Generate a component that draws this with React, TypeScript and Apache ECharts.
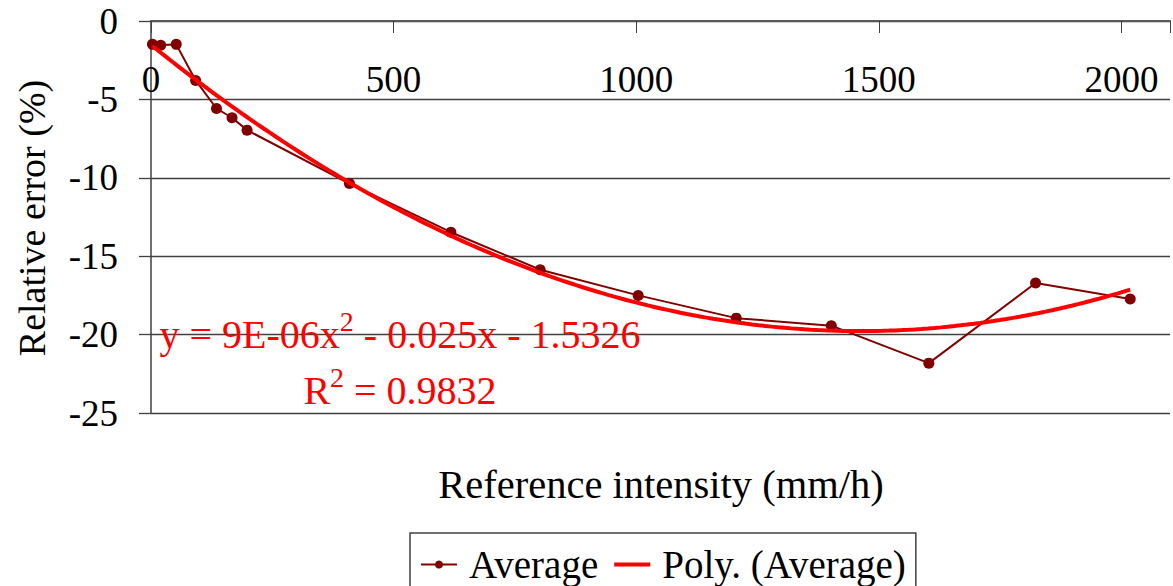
import React, { useEffect, useRef } from "react";
import * as echarts from "echarts";

const intensity = [3, 20, 52, 92, 135, 167, 198, 409, 618, 802, 1004, 1206, 1402, 1603, 1823, 2018];
const relError = [-1.49, -1.55, -1.49, -3.79, -5.58, -6.17, -6.96, -10.37, -13.47, -15.86, -17.5, -18.95, -19.43, -21.82, -16.71, -17.73];
const xTicks = [0, 500, 1000, 1500, 2000];
const yTicks = [0, -5, -10, -15, -20, -25];
const seriesNames = ["Average", "Poly. (Average)"];
const equationText = ["y = 9E-06x", "2", " - 0.025x - 1.5326"];
const r2Text = ["R", "2", " = 0.9832"];
const xTitle = "Reference intensity (mm/h)";
const yTitle = "Relative error (%)";

const FONT = '"Liberation Serif", "DejaVu Serif", serif';

// Least-squares quadratic fit (like a spreadsheet polynomial trendline)
function fitQuadratic(xs: number[], ys: number[]) {
  let s0 = 0, s1 = 0, s2 = 0, s3 = 0, s4 = 0, t0 = 0, t1 = 0, t2 = 0;
  for (let i = 0; i < xs.length; i++) {
    const x = xs[i], y = ys[i];
    s0 += 1; s1 += x; s2 += x * x; s3 += x * x * x; s4 += x * x * x * x;
    t0 += y; t1 += x * y; t2 += x * x * y;
  }
  const M = [
    [s4, s3, s2, t2],
    [s3, s2, s1, t1],
    [s2, s1, s0, t0],
  ];
  for (let c = 0; c < 3; c++) {
    let p = c;
    for (let r = c + 1; r < 3; r++) if (Math.abs(M[r][c]) > Math.abs(M[p][c])) p = r;
    [M[c], M[p]] = [M[p], M[c]];
    for (let r = 0; r < 3; r++) {
      if (r === c) continue;
      const f = M[r][c] / M[c][c];
      for (let k = c; k < 4; k++) M[r][k] -= f * M[c][k];
    }
  }
  return [M[0][3] / M[0][0], M[1][3] / M[1][1], M[2][3] / M[2][2]];
}

const richStyles = {
  n: { fontSize: 40, fontFamily: FONT, fill: "#ff0000", lineHeight: 44, verticalAlign: "bottom" },
  s: { fontSize: 28, fontFamily: FONT, fill: "#ff0000", lineHeight: 28, verticalAlign: "bottom", padding: [0, 0, 19, 0] },
};

export default function App() {
  const ref = useRef<HTMLDivElement>(null);
  useEffect(() => {
    if (!ref.current) return;
    const chart = echarts.init(ref.current, undefined, { renderer: "svg" });
    const [a, b, c] = fitQuadratic(intensity, relError);
    const x0 = intensity[0];
    const x1 = intensity[intensity.length - 1];
    const trend: number[][] = [];
    const n = 150;
    for (let i = 0; i <= n; i++) {
      const x = x0 + ((x1 - x0) * i) / n;
      trend.push([x, a * x * x + b * x + c]);
    }
    const avgData = intensity.map((x, i) => [x, relError[i]]);

    chart.setOption({
      animation: false,
      backgroundColor: "#ffffff",
      textStyle: { fontFamily: FONT },
      grid: { left: 151, top: 21, right: -1, bottom: 173, containLabel: false },
      legend: {
        data: [
          { name: seriesNames[0], lineStyle: { width: 2 } },
          { name: seriesNames[1], itemStyle: { opacity: 0 }, lineStyle: { width: 4 } },
        ],
        left: 410,
        top: 533,
        orient: "horizontal",
        borderColor: "#404040",
        borderWidth: 1.5,
        padding: [12, 10, 20, 10],
        itemGap: 14,
        itemWidth: 36,
        itemHeight: 10,
        textStyle: { fontSize: 39, color: "#000", fontFamily: FONT, padding: [0, 0, 0, 7] },
      },
      xAxis: {
        type: "value",
        position: "top",
        min: 0,
        max: 2100,
        interval: 500,
        axisLine: { show: true, onZero: false, lineStyle: { color: "#595959", width: 2 } },
        axisTick: { show: true, inside: true, length: 12, lineStyle: { color: "#404040", width: 1 } },
        splitLine: { show: false },
        axisLabel: {
          inside: true,
          fontSize: 37,
          color: "#000",
          fontFamily: FONT,
          margin: 40,
          formatter: (v: number) => (xTicks.indexOf(v) >= 0 ? String(v) : ""),
        },
      },
      yAxis: {
        type: "value",
        min: -25,
        max: 0,
        interval: 5,
        axisLine: { show: true, lineStyle: { color: "#404040", width: 1.5 } },
        axisTick: { show: true, length: 12, lineStyle: { color: "#404040", width: 1.3 } },
        splitLine: { show: true, lineStyle: { color: "#404040", width: 1.3 } },
        axisLabel: {
          fontSize: 37,
          color: "#000",
          fontFamily: FONT,
          margin: 33,
          formatter: (v: number) => (yTicks.indexOf(v) >= 0 ? String(v) : ""),
        },
      },
      graphic: [
        {
          type: "text",
          x: 32,
          y: 218,
          rotation: Math.PI / 2,
          style: {
            text: yTitle,
            fontSize: 38,
            fontFamily: FONT,
            fill: "#000",
            align: "center",
            verticalAlign: "middle",
          },
        },
        {
          type: "text",
          x: 661,
          y: 484,
          style: {
            text: xTitle,
            fontSize: 40.5,
            fontFamily: FONT,
            fill: "#000",
            align: "center",
            verticalAlign: "middle",
          },
        },
        {
          type: "text",
          x: 400,
          y: 332,
          z: 100,
          style: {
            text: `{n|${equationText[0]}}{s|${equationText[1]}}{n|${equationText[2]}}`,
            align: "center",
            verticalAlign: "middle",
            rich: richStyles,
          },
        },
        {
          type: "text",
          x: 400,
          y: 388,
          z: 100,
          style: {
            text: `{n|${r2Text[0]}}{s|${r2Text[1]}}{n|${r2Text[2]}}`,
            align: "center",
            verticalAlign: "middle",
            rich: richStyles,
          },
        },
      ],
      series: [
        {
          name: seriesNames[0],
          type: "line",
          data: avgData,
          symbol: "circle",
          symbolSize: 11,
          showSymbol: true,
          itemStyle: { color: "#800000" },
          lineStyle: { color: "#800000", width: 2 },
          z: 2,
        },
        {
          name: seriesNames[1],
          type: "line",
          data: trend,
          symbol: "none",
          showSymbol: false,
          smooth: false,
          itemStyle: { color: "#ff0000" },
          lineStyle: { color: "#ff0000", width: 4 },
          z: 3,
        },
      ],
    });
    return () => chart.dispose();
  }, []);
  return <div ref={ref} style={{ width: 1173, height: 586, position: "absolute", left: 0, top: 0 }} />;
}
